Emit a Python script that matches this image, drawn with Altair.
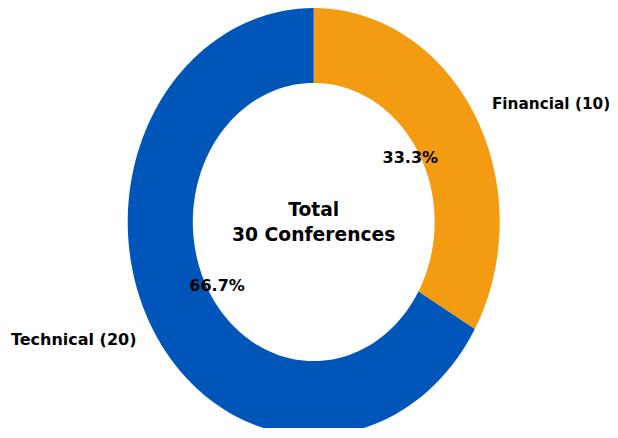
import altair as alt
import pandas as pd

categories = ["Financial", "Technical"]
values = [10, 20]
colors = ["#F39C12", "#0056B8"]
center_title = "Total"
center_unit = "Conferences"

df = pd.DataFrame({"idx": list(range(len(categories))), "category": categories, "value": values})

X_RANGE = [119.7, 491.7]
Y_RANGE = [428, 0]
xs = alt.Scale(domain=[-1, 1], range=X_RANGE)
ys = alt.Scale(domain=[-1, 1], range=Y_RANGE)
FONT = "DejaVu Sans"

base = alt.Chart(df).transform_joinaggregate(
    total="sum(value)"
).transform_window(
    cum="sum(value)", sort=[alt.SortField("idx")], frame=[None, 0]
).transform_calculate(
    start="(datum.cum - datum.value) / datum.total",
    end="datum.cum / datum.total",
).transform_calculate(
    mid="2 * PI * (datum.start + datum.end) / 2"
)

ring = base.transform_calculate(
    steps="sequence(0, 202)"
).transform_flatten(["steps"], as_=["step"]).transform_calculate(
    t="datum.step <= 100 ? datum.step / 100 : (201 - datum.step) / 100",
    r="datum.step <= 100 ? 1 : 0.65",
).transform_calculate(
    a="2 * PI * (datum.start + (datum.end - datum.start) * datum.t)"
).transform_calculate(
    px="datum.r * sin(datum.a)",
    py="datum.r * cos(datum.a)",
).mark_line(filled=True, strokeWidth=0).encode(
    x=alt.X("px:Q", scale=xs, axis=None),
    y=alt.Y("py:Q", scale=ys, axis=None),
    color=alt.Color("category:N", scale=alt.Scale(domain=categories, range=colors), legend=None),
    order=alt.Order("step:Q"),
    detail="category:N",
)

lab = base.transform_calculate(
    lx="1.1 * sin(datum.mid)",
    ly="1.1 * cos(datum.mid)",
    label="datum.category + ' (' + datum.value + ')'",
)
lab_right = lab.transform_filter("sin(datum.mid) >= 0").mark_text(
    align="left", baseline="middle", font=FONT, fontWeight="bold", fontSize=15.3, color="black", dx=1
).encode(x=alt.X("lx:Q", scale=xs), y=alt.Y("ly:Q", scale=ys), text="label:N")
lab_left = lab.transform_filter("sin(datum.mid) < 0").mark_text(
    align="right", baseline="middle", font=FONT, fontWeight="bold", fontSize=16, color="black"
).encode(x=alt.X("lx:Q", scale=xs), y=alt.Y("ly:Q", scale=ys), text="label:N")

pct = base.transform_calculate(
    qx="0.6 * sin(datum.mid)",
    qy="0.6 * cos(datum.mid)",
    pct="format(datum.value / datum.total, '.1%')",
).mark_text(
    align="center", baseline="middle", font=FONT, fontWeight="bold", fontSize=16, color="black"
).encode(x=alt.X("qx:Q", scale=xs), y=alt.Y("qy:Q", scale=ys), text="pct:N")

center = alt.Chart(df).transform_aggregate(total="sum(value)").transform_calculate(
    cx="0", cy="0",
    txt=f"['{center_title}', datum.total + ' {center_unit}']",
).mark_text(
    align="center", baseline="middle", font=FONT, fontWeight="bold", fontSize=18.7,
    lineHeight=25, color="black", dy=-12
).encode(x=alt.X("cx:Q", scale=xs), y=alt.Y("cy:Q", scale=ys), text="txt:N")

chart = alt.layer(ring, lab_right, lab_left, pct, center).properties(
    width=602, height=420, autosize=alt.AutoSizeParams(type="none"), padding=0
).configure_view(stroke=None, clip=False)

chart.save("out.html", embed_options={"renderer": "svg", "actions": False})
